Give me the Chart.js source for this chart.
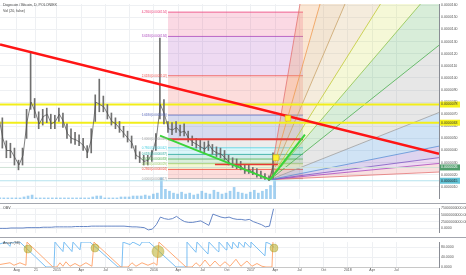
<!DOCTYPE html>
<html>
<head>
<meta charset="utf-8">
<script src="https://cdn.jsdelivr.net/npm/chart.js@4.4.1/dist/chart.umd.min.js"></script>
<style>
  body { margin: 0; background: #fff; width: 466px; height: 275px; overflow: hidden; position: relative; font-family: "Liberation Sans", Arial, sans-serif; }
  .pane { position: absolute; left: 0; width: 466px; }
  .sep { position: absolute; left: 0; width: 466px; height: 1px; background: #a3a6ae; }
  .title { position: absolute; left: 3px; font-size: 3.6px; line-height: 4px; color: #444; white-space: nowrap; }
</style>
</head>
<body>
<div class="pane" style="top:0;height:203px"><canvas id="mainChart"></canvas></div>
<div class="sep" style="top:203px"></div>
<div class="pane" style="top:204px;height:33px"><canvas id="obvChart"></canvas></div>
<div class="sep" style="top:237px"></div>
<div class="pane" style="top:238px;height:37px"><canvas id="aroonChart"></canvas></div>
<div class="title" style="top:3px">Dogecoin / Bitcoin, D, POLONIEX</div>
<div class="title" style="top:9px">Vol (20, false)</div>
<div class="title" style="top:206px">OBV</div>
<div class="title" style="top:241px">Aroon (98)</div>

<script>
// x axis unit: months since Jan 2015
const xMin = -7.05;
const xMax = 47.28;
const tickPos  = [-5, -2.6, 0, 3, 6, 9, 12, 15, 18, 21, 24, 27, 30, 33, 36, 39, 42];
const tickText = ["Aug", "21", "2015", "Apr", "Jul", "Oct", "2016", "Apr", "Jul", "Oct", "2017", "Apr", "Jul", "Oct", "2018", "Apr", "Jul"];

// prices in units of 1e-7 BTC, one candle every half month
const priceStart = -7.2;
const priceStep = 0.5;
const priceLow   = [62,42,34,34,28,24,28,50,74,67,58,61,63,58,58,64,59,50,46,45,44,40,34,38,64,72,72,66,61,58,55,51,47,42,33,30,28,28,31,40,66,62,55,53,55,52,52,47,44,42,40,38,40,37,35,34,32,28,26,25,24,21,21,20,18,17,16,15,17];
const priceHigh  = [74,67,48,46,42,32,42,74,121,83,72,74,75,70,69,75,71,62,58,55,53,50,44,58,86,99,85,78,71,67,64,60,56,52,44,39,36,36,40,54,133,82,64,63,64,61,62,56,52,50,49,47,48,45,43,42,40,36,34,33,31,28,28,26,25,23,21,19,38];
const priceClose = [68,50,40,40,34,28,36,64,80,72,62,68,70,62,64,70,64,54,50,49,47,44,38,50,80,78,76,70,64,62,58,54,50,46,36,34,31,32,38,50,78,70,58,57,59,55,56,50,47,45,43,41,45,40,38,37,34,30,28,28,27,23,24,22,20,19,18,16,28];
const volume     = [5,5,5,5,5,5,10,15,20,5,5,5,5,5,5,5,5,5,5,5,5,5,5,10,15,15,5,5,5,5,10,10,10,15,15,15,20,15,25,30,110,50,40,30,25,35,25,30,20,25,40,30,25,45,35,25,30,40,60,35,30,25,35,45,30,40,50,70,100];
// OBV in billions
const obv = [0,0,0,1.4,1.4,1.4,1.4,2.8,2.8,2.8,2.8,4.2,4.2,4.2,5.6,5.6,5.6,5.6,5.6,6.9,6.9,6.9,6.9,8.3,8.3,8.3,8.3,8.3,8.3,8.3,8.3,8.3,6.9,5.6,5.6,4.2,2.8,-5.6,-2.8,13.9,41.7,36.1,33.3,36.1,44.4,33.3,25.0,22.2,22.2,25.0,27.8,19.4,11.1,52.8,47.2,41.7,38.9,41.7,36.1,33.3,33.3,30.6,33.3,25.0,19.4,13.9,5.6,8.3,72.2];

// Aroon [month, value]
const aroonUp = [[-7.05,10],[-5.82,17],[-5.32,7],[-4.58,17],[-3.84,7],[-3.71,100],[-0.5,0],[0,0],[0.37,17],[0.74,3],[1.11,21],[1.61,3],[2.23,14],[2.85,3],[3.59,17],[4.33,3],[4.58,100],[7.92,0],[8.79,0],[9.28,17],[9.78,3],[10.52,17],[11.26,7],[12,17],[12.38,7],[12.62,100],[15.97,0],[16.71,0],[17.2,17],[17.7,3],[18.32,28],[18.94,3],[19.55,24],[20.17,3],[20.79,21],[21.41,3],[22.15,31],[22.77,3],[23.51,24],[24.13,3],[24.75,14],[25.37,3],[25.87,0],[26.61,0],[26.73,100]];
const aroonDown = [[-7.05,93],[-6.31,100],[-5.82,83],[-5.69,100],[-4.58,100],[-1.36,0],[-0.37,0],[-0.25,100],[0.74,62],[0.87,100],[1.86,62],[1.98,100],[2.85,69],[2.97,100],[4.08,100],[4.33,93],[7.55,0],[8.04,0],[8.17,100],[9.03,90],[9.41,100],[10.27,86],[10.52,100],[11.39,100],[14.73,0],[15.97,0],[16.09,100],[17.2,59],[17.33,100],[18.69,52],[18.81,100],[19.93,62],[20.05,100],[20.92,69],[21.04,100],[21.66,72],[21.78,100],[22.4,76],[22.52,100],[23.14,79],[23.27,100],[23.89,79],[24.01,100],[25.74,45],[25.87,100],[26.36,93],[26.86,79]];
const aroonCross = [[-3.59,72],[4.7,76],[12.5,62],[26.86,76]];
const crossSize = [4, 4, 6, 4];

// drawings
const fibX = [13.74, 30.45];
const fibLow = 16.7;
const fibHigh = 49.2;
const fibLevels = [0, 0.236, 0.382, 0.5, 0.618, 0.786, 1, 1.618, 2.618, 3.618, 4.236];
const fibColors = ["#9e9e9e", "#f44336", "#9ccc65", "#4caf50", "#26a69a", "#4dd0e1", "#9e9e9e", "#5c6bc0", "#ef5350", "#ab47bc", "#ec407a"];
const fibFills  = [null, "rgba(244,67,54,0.18)", "rgba(205,220,57,0.22)", "rgba(76,175,80,0.2)", "rgba(38,166,154,0.2)", "rgba(77,208,225,0.2)", "rgba(158,158,158,0.2)", "rgba(92,107,192,0.25)", "rgba(239,83,80,0.2)", "rgba(171,71,188,0.2)", "rgba(236,64,122,0.2)"];

const fanOrigin = [26.36, 15.9];
const fanEnd = [833, 506, 343, 238, 179, 127, 71.4, 43.6, 34.1, 29.3, 22.2];
const fanColors = ["#e57373", "#ef9a50", "#c9a36a", "#c0ca33", "#8bc34a", "#4caf50", "#a0a0a0", "#5c8fd6", "#7e57c2", "#ab47bc", "#e57373"];
const fanFills  = [null, "rgba(239,154,80,0.25)", "rgba(214,170,110,0.3)", "rgba(214,180,120,0.25)", "rgba(205,220,57,0.2)", "rgba(76,175,80,0.22)", "rgba(160,160,160,0.25)", "rgba(66,145,214,0.25)", "rgba(103,58,183,0.22)", "rgba(171,71,188,0.2)", "rgba(229,115,115,0.22)"];

const redTrend  = [[-7.05, 127.7], [47.28, 37.3]];
const greenDown = [[12.75, 52.3], [26.36, 15.9]];
const greenUp   = [[26.36, 15.9], [30.69, 53.1]];
const redLevel  = [[13.74, 49.2], [30.45, 49.2]];
const redShort  = [[19.55, 28.5], [27.35, 28.5]];
const hLines    = [78, 63, 26, 15];
const hColors   = ["#f2ee1a", "#f2ee1a", "#cfe2d6", "#b5e3ee"];
const hWidths   = [2, 2, 1, 1];
const hLabelBg  = ["#f5f21a", "#f5f21a", "#4f9d6b", "#62c3d6"];
const hLabelFg  = ["#333", "#333", "#fff", "#222"];
const flags = [[28.59, 66.6], [27.1, 34.1]];

const priceTicks = [10,20,30,40,50,60,70,80,90,100,110,120,130,140,150,160];
const obvTicks = [0, 25, 50, 75];
const aroonTicks = [0, 40, 80];

Chart.defaults.font.family = '"Liberation Sans", Arial, sans-serif';

function seg(points, color, width, extra) {
  return Object.assign({
    type: "line",
    data: points.map(p => ({ x: p[0], y: p[1] })),
    borderColor: color,
    borderWidth: width,
    pointRadius: 0,
    fill: false
  }, extra || {});
}

function xScale(showLabels) {
  return {
    type: "linear", min: xMin, max: xMax, offset: false,
    afterBuildTicks: s => { s.ticks = tickPos.map(v => ({ value: v })); },
    afterFit: s => { s.height = showLabels ? 8 : 0; },
    ticks: {
      display: showLabels, autoSkip: false, maxRotation: 0, padding: 1,
      font: { size: 3.5 }, color: "#555",
      callback: (v, i) => tickText[i]
    },
    grid: { color: "#eef0f3", drawTicks: false, offset: false },
    border: { display: showLabels, color: "#c8c8c8" }
  };
}

function yScale(ticks, min, max, fmt) {
  return {
    position: "right", min: min, max: max,
    afterFit: s => { s.width = 27; },
    afterBuildTicks: s => { s.ticks = ticks.map(v => ({ value: v })); },
    ticks: { font: { size: 3.5 }, color: "#555", padding: 2, callback: fmt },
    grid: { color: "#eef0f3", drawTicks: false },
    border: { color: "#8a8d95" }
  };
}

const baseOptions = {
  responsive: true,
  maintainAspectRatio: false,
  animation: false,
  events: [],
  layout: { padding: 0, autoPadding: false },
  plugins: { legend: { display: false }, tooltip: { enabled: false } }
};

/* -------------------------------
   MAIN PANE
--------------------------------*/
const mainSets = [];

// fib extension bands
fibLevels.forEach((lv, i) => {
  const u = fibLow + (fibHigh - fibLow) * lv;
  mainSets.push(seg([[fibX[0], u], [fibX[1], u]], fibColors[i], 0.8, {
    fill: i === 0 ? false : "-1",
    backgroundColor: fibFills[i] || "transparent",
    order: 60
  }));
});

// gann fan rays
fanEnd.forEach((e, i) => {
  mainSets.push(seg([fanOrigin, [xMax, e]], fanColors[i], 0.8, {
    fill: i === 0 ? false : "-1",
    backgroundColor: fanFills[i] || "transparent",
    order: 50
  }));
});

mainSets.push({
  type: "bar", yAxisID: "yVol", order: 45,
  data: volume.map((v, i) => ({ x: priceStart + i * priceStep, y: v })),
  backgroundColor: "rgba(84,170,230,0.55)", barThickness: 2
});

hLines.forEach((v, i) => {
  mainSets.push(seg([[xMin, v], [xMax, v]], hColors[i], hWidths[i], { order: 40 }));
});

mainSets.push({
  type: "bar", order: 30,
  data: priceLow.map((l, i) => ({ x: priceStart + i * priceStep, y: [l, priceHigh[i]] })),
  backgroundColor: "#707070", barThickness: 1
});
mainSets.push(seg(priceClose.map((c, i) => [priceStart + i * priceStep, c]), "#4a4a4a", 0.7, { order: 29 }));

mainSets.push(seg(redLevel, "#e53935", 2, { order: 20 }));
mainSets.push(seg(redShort, "#e53935", 1.5, { order: 20 }));
mainSets.push(seg(greenDown, "#3ad43a", 2, { order: 15 }));
mainSets.push(seg(greenUp, "#3ad43a", 2, { order: 15 }));
mainSets.push(seg(redTrend, "#ff1515", 2.5, { order: 12 }));
mainSets.push(seg(flags, "#e0c800", 0, {
  order: 5, showLine: false, pointRadius: 4, pointStyle: "rect",
  pointBackgroundColor: "#fff22e", pointBorderColor: "#d4bb00", pointBorderWidth: 0.5
}));

const mainLabels = {
  id: "mainLabels",
  afterDraw(chart) {
    const { ctx, scales: { x, y }, chartArea } = chart;
    ctx.save();
    ctx.font = '3px "Liberation Sans", Arial, sans-serif';
    ctx.textAlign = "right";
    ctx.textBaseline = "middle";
    fibLevels.forEach((lv, i) => {
      const u = fibLow + (fibHigh - fibLow) * lv;
      ctx.fillStyle = fibColors[i];
      ctx.fillText(lv.toFixed(4) + "(" + (u / 1e7).toFixed(7) + ")", x.getPixelForValue(fibX[0]) - 1, y.getPixelForValue(u));
    });
    ctx.font = '3.5px "Liberation Sans", Arial, sans-serif';
    ctx.textAlign = "left";
    hLines.forEach((v, i) => {
      const py = y.getPixelForValue(v);
      ctx.fillStyle = hLabelBg[i];
      ctx.fillRect(chartArea.right + 1, py - 3, 20, 6);
      ctx.fillStyle = hLabelFg[i];
      ctx.fillText((v / 1e7).toFixed(7), chartArea.right + 2, py);
    });
    ctx.restore();
  }
};

new Chart(document.getElementById("mainChart"), {
  type: "line",
  data: { datasets: mainSets },
  options: Object.assign({}, baseOptions, {
    scales: {
      x: xScale(false),
      y: yScale(priceTicks, 0, 161, v => (v / 1e7).toFixed(7)),
      yVol: { display: false, min: 0, max: 1015 }
    }
  }),
  plugins: [mainLabels]
});

/* -------------------------------
   OBV PANE
--------------------------------*/
new Chart(document.getElementById("obvChart"), {
  type: "line",
  data: {
    datasets: [seg(obv.map((v, i) => [priceStart + i * priceStep, v]), "#5679c0", 0.9)]
  },
  options: Object.assign({}, baseOptions, {
    scales: {
      x: xScale(false),
      y: yScale(obvTicks, -16.7, 75, v => (v * 1e9).toFixed(4))
    }
  })
});

/* -------------------------------
   AROON PANE
--------------------------------*/
new Chart(document.getElementById("aroonChart"), {
  type: "line",
  data: {
    datasets: [
      seg(aroonCross, "transparent", 0, {
        showLine: false, pointRadius: crossSize, pointBackgroundColor: "rgba(185,175,40,0.55)",
        pointBorderColor: "rgba(160,150,30,0.7)", pointBorderWidth: 0.5
      }),
      seg(aroonUp, "#ffa066", 0.9),
      seg(aroonDown, "#6cb8f2", 0.9)
    ]
  },
  options: Object.assign({}, baseOptions, {
    scales: {
      x: xScale(true),
      y: yScale(aroonTicks, 0, 100, v => v.toFixed(4))
    }
  })
});
</script>
</body>
</html>
